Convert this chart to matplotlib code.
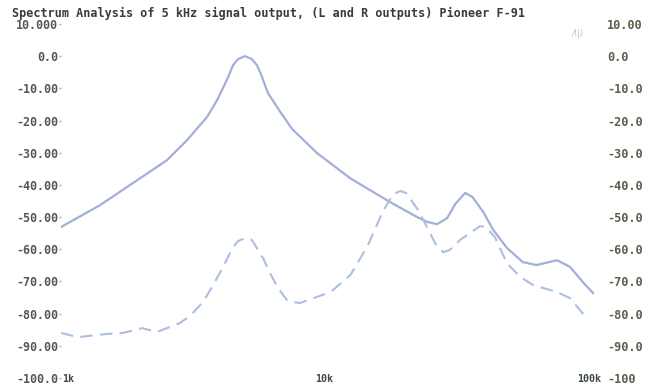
import matplotlib.pyplot as plt

# frequency (Hz) / level (dB)
left_freq = [1000, 1407, 1879, 2530, 3014, 3591, 3920, 4320, 4508, 4710, 5000,
             5300, 5560, 5750, 6124, 6805, 7556, 9404, 12560, 14950, 17800,
             22600, 24700, 26900, 29400, 31500, 34400, 36700, 40300, 44000,
             49600, 57000, 64300, 76900, 86200, 96400, 105400]
left_db = [-53.1, -46.3, -39.4, -32.3, -26.1, -18.9, -13.7, -6.5, -2.8, -0.9, 0.0,
           -0.8, -2.8, -5.5, -11.5, -17.2, -22.6, -30.1, -37.9, -41.6, -45.3,
           -50.0, -51.5, -52.2, -50.3, -46.0, -42.5, -43.8, -48.4, -54.0,
           -59.6, -64.0, -64.9, -63.4, -65.5, -70.2, -73.6]

right_freq = [1000, 1160, 1496, 1721, 2032, 2317, 2835, 3094, 3467, 3788, 4130,
              4508, 4710, 5000, 5320, 5860, 6232, 6680, 7231, 7640, 8102, 9404,
              10600, 12600, 14700, 16700, 18300, 19500, 20500, 22800, 25300,
              26800, 28400, 30100, 32900, 39200, 41200, 44600, 49600, 55700,
              62300, 76900, 86200, 94000, 100900]
right_db = [-86.0, -87.3, -86.3, -86.0, -84.5, -85.7, -82.9, -80.7, -76.4, -71.1, -65.5,
            -59.3, -57.5, -56.5, -57.1, -62.7, -67.4, -72.0, -75.8, -76.4, -76.7, -74.8,
            -73.3, -68.0, -58.7, -48.4, -42.9, -41.9, -42.5, -47.8, -55.0,
            -59.0, -60.9, -60.2, -57.1, -52.8, -53.1, -56.2, -64.3, -68.6,
            -71.1, -73.3, -75.2, -78.9, -82.0]

levels = [10, 0, -10, -20, -30, -40, -50, -60, -70, -80, -90, -100]
left_labels = ['10.000', '0.0', '-10.00', '-20.00', '-30.00', '-40.00', '-50.00',
               '-60.00', '-70.00', '-80.00', '-90.00', '-100.0']
right_labels = ['10.00', '0.0', '-10.0', '-20.0', '-30.0', '-40.0', '-50.0',
                '-60.0', '-70.0', '-80.0', '-90.0', '-100']
freq_ticks = [1000, 10000, 100000]
freq_labels = ['1k', '10k', '100k']

title = 'Spectrum Analysis of 5 kHz signal output, (L and R outputs) Pioneer F-91'

mono = 'DejaVu Sans Mono'

fig = plt.figure(figsize=(6.57, 3.85), dpi=100)
ax = fig.add_axes([61 / 657, 7 / 385, 539 / 657, 354 / 385])
ax.set_xscale('log')
ax.set_xlim(1000, 112000)
ax.set_ylim(-100, 10)

ax.plot(left_freq, left_db, color='#a2b0d8', lw=1.6, solid_joinstyle='round')
ax.plot(right_freq, right_db, color='#abbfe0', lw=1.5, ls=(0, (6, 3.5)))

for s in ax.spines.values():
    s.set_visible(False)
ax.set_xticks([])
ax.minorticks_off()
ax.set_yticks(levels)
ax.set_yticklabels(left_labels, fontfamily=mono, fontweight='bold', fontsize=8.4,
                   color='#555555')
ax.tick_params(axis='y', length=1.5, width=1, color='#aaaaaa', pad=0.8)

ax2 = ax.twinx()
ax2.set_ylim(-100, 10)
for s in ax2.spines.values():
    s.set_visible(False)
ax2.set_yticks(levels)
ax2.set_yticklabels(right_labels, fontfamily=mono, fontweight='bold', fontsize=8.6,
                    color='#5e5e4c')
ax2.tick_params(axis='y', length=0, pad=5)

# frequency labels sit on the bottom line, beside the -100 labels
ax.text(freq_ticks[0] * 1.01, -100.2, freq_labels[0], ha='left', va='center',
        fontfamily=mono, fontweight='bold', fontsize=7.2, color='#3c4a3c')
ax.text(freq_ticks[1], -100.2, freq_labels[1], ha='center', va='center',
        fontfamily=mono, fontweight='bold', fontsize=7.2, color='#3c4a3c')
ax.text(freq_ticks[2] * 1.02, -100.2, freq_labels[2], ha='center', va='center',
        fontfamily=mono, fontweight='bold', fontsize=7.2, color='#3c4a3c')

fig.text(12 / 657, 1 - 13 / 385, title, ha='left', va='center',
         fontfamily=mono, fontweight='bold', fontsize=8.5, color='#3a3a3a')
fig.text(578 / 657, 1 - 33 / 385, '/\\|)', ha='center', va='center',
         fontsize=6.5, color='#c0c0c0', style='italic')

fig.savefig('out.png', dpi=100, facecolor='white')
